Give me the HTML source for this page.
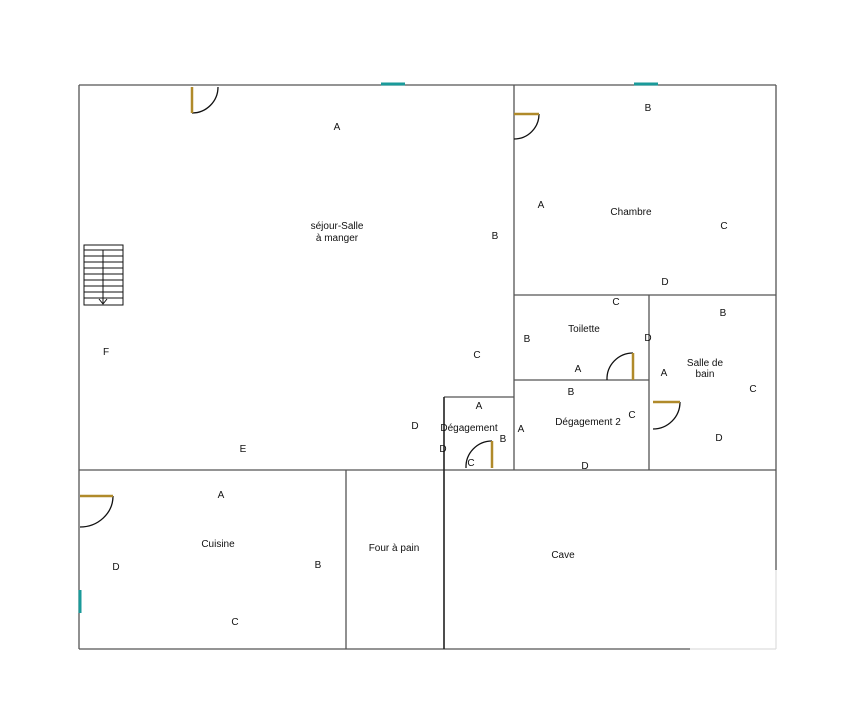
<!DOCTYPE html>
<html><head><meta charset="utf-8"><style>
html,body{margin:0;padding:0;background:#fff;}
svg{display:block;}
text{font-family:"Liberation Sans",sans-serif;font-size:10px;fill:#111;text-anchor:middle;}
</style></head><body>
<svg width="854" height="721" viewBox="0 0 854 721" xmlns="http://www.w3.org/2000/svg">
<g stroke="#555" stroke-width="1.3" fill="none">
<!-- outer -->
<line x1="79" y1="85" x2="776" y2="85"/>
<line x1="79" y1="85" x2="79" y2="649"/>
<line x1="79" y1="649" x2="690" y2="649"/>
<line x1="776" y1="85" x2="776" y2="570"/>
<!-- sejour right -->
<line x1="514" y1="85" x2="514" y2="470"/>
<line x1="79" y1="470" x2="776" y2="470"/>
<line x1="514" y1="295" x2="776" y2="295"/>
<line x1="514" y1="380" x2="649" y2="380"/>
<line x1="649" y1="295" x2="649" y2="470"/>
<line x1="444" y1="397" x2="514" y2="397"/>
<line x1="346" y1="470" x2="346" y2="649"/>
</g>
<g stroke="#ddd" stroke-width="1.2"><line x1="776" y1="570" x2="776" y2="649"/><line x1="690" y1="649" x2="776" y2="649"/></g>
<line x1="444" y1="397" x2="444" y2="649" stroke="#222" stroke-width="1.6"/>
<!-- windows -->
<g stroke="#1a9a9a" stroke-width="3"><line x1="381" y1="84" x2="405" y2="84"/><line x1="634" y1="84" x2="658" y2="84"/><line x1="80" y1="590" x2="80" y2="613"/></g>
<!-- doors -->
<g stroke="#111" stroke-width="1.3" fill="none">
<path d="M192 113 A26 26 0 0 0 218 87"/>
<path d="M539 114 A25 25 0 0 1 514 139"/>
<path d="M633 353 A26 26 0 0 0 607 380"/>
<path d="M680 402 A27 27 0 0 1 653 429"/>
<path d="M492 441 A26 26 0 0 0 466 468"/>
<path d="M113 496 A33 31 0 0 1 80 527"/>
</g>
<g stroke="#b08a2a" stroke-width="2.5">
<line x1="192" y1="87" x2="192" y2="113"/>
<line x1="514" y1="114" x2="539" y2="114"/>
<line x1="633" y1="353" x2="633" y2="380"/>
<line x1="653" y1="402" x2="680" y2="402"/>
<line x1="492" y1="441" x2="492" y2="468"/>
<line x1="80" y1="496" x2="113" y2="496"/>
</g>
<!-- stairs -->
<g stroke="#111" stroke-width="1" fill="none">
<rect x="84" y="245" width="39" height="60"/>
<line x1="84" y1="250" x2="123" y2="250"/><line x1="84" y1="256" x2="123" y2="256"/>
<line x1="84" y1="262" x2="123" y2="262"/><line x1="84" y1="268" x2="123" y2="268"/>
<line x1="84" y1="274" x2="123" y2="274"/><line x1="84" y1="280" x2="123" y2="280"/>
<line x1="84" y1="286" x2="123" y2="286"/><line x1="84" y1="292" x2="123" y2="292"/>
<line x1="84" y1="298" x2="123" y2="298"/>
<line x1="103" y1="250" x2="103" y2="304"/>
<path d="M99 299 L103 304 L107 299"/>
</g>
<!-- labels -->
<text x="337" y="130">A</text>
<text x="337" y="229">séjour-Salle</text>
<text x="337" y="241">à manger</text>
<text x="495" y="239">B</text>
<text x="477" y="358">C</text>
<text x="415" y="429">D</text>
<text x="243" y="452">E</text>
<text x="106" y="355">F</text>
<text x="648" y="111">B</text>
<text x="541" y="208">A</text>
<text x="631" y="215">Chambre</text>
<text x="724" y="229">C</text>
<text x="665" y="285">D</text>
<text x="616" y="305">C</text>
<text x="584" y="332">Toilette</text>
<text x="527" y="342">B</text>
<text x="648" y="341">D</text>
<text x="578" y="372">A</text>
<text x="723" y="316">B</text>
<text x="705" y="366">Salle de</text>
<text x="705" y="377">bain</text>
<text x="664" y="376">A</text>
<text x="753" y="392">C</text>
<text x="719" y="441">D</text>
<text x="571" y="395">B</text>
<text x="588" y="425">Dégagement 2</text>
<text x="632" y="418">C</text>
<text x="521" y="432">A</text>
<text x="585" y="469">D</text>
<text x="479" y="409">A</text>
<text x="469" y="431">Dégagement</text>
<text x="503" y="442">B</text>
<text x="443" y="452">D</text>
<text x="471" y="466">C</text>
<text x="221" y="498">A</text>
<text x="218" y="547">Cuisine</text>
<text x="116" y="570">D</text>
<text x="318" y="568">B</text>
<text x="235" y="625">C</text>
<text x="394" y="551">Four à pain</text>
<text x="563" y="558">Cave</text>
</svg>
</body></html>
